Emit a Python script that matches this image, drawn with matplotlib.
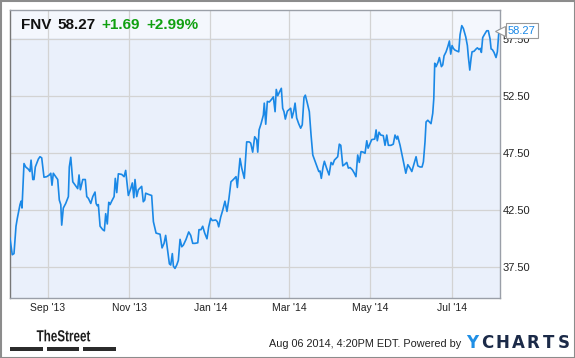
import pandas as pd
import matplotlib
matplotlib.use("Agg")
import matplotlib.pyplot as plt
import matplotlib.dates as mdates
from matplotlib.patches import Rectangle, PathPatch
from matplotlib.textpath import TextPath
from matplotlib.font_manager import FontProperties
from matplotlib.transforms import Affine2D, IdentityTransform

plt.rcParams['font.family'] = ['Liberation Sans', 'DejaVu Sans']

# FNV daily close (days counted from 2013-08-03)
start = pd.Timestamp('2013-08-03')
days = [0.7, 2.4, 3.7, 5.2, 6.2, 8.2, 9.0, 9.7, 11.2, 12.5, 14.5, 15.7, 16.5, 17.8, 18.7,
        19.7, 22.0, 23.2, 24.5, 26.2, 28.3, 30.2, 31.3, 32.2, 33.2, 35.0, 36.5, 37.7, 38.8,
        39.5, 40.7, 42.5, 44.5, 45.2, 46.3, 47.8, 50.2, 51.5, 52.5, 53.5, 55.3, 57.2, 58.3,
        59.5, 61.3, 62.8, 64.5, 65.3, 66.2, 67.0, 68.3, 70.3, 71.5, 72.5, 73.7, 74.8, 75.8,
        77.0, 78.8, 79.7, 80.8, 82.0, 84.5, 86.3, 87.5, 89.5, 91.3, 92.5, 93.6,
        94.5, 95.8, 97.0, 99.5, 100.7, 101.8, 102.5, 104.5, 107.0, 108.3, 110.3, 113.3,
        114.8, 116.3, 117.5, 119.0, 120.3, 121.3, 122.5, 123.3, 124.5, 125.8, 127.0, 128.3,
        129.6, 130.8, 132.8, 134.8, 136.3, 137.8, 139.5, 141.6, 142.5, 144.0, 145.3, 146.8,
        148.5, 149.8, 151.3, 152.5, 155.1, 156.3, 157.3, 158.8, 160.3, 162.0, 163.5, 165.0,
        166.5, 168.3, 170.3, 171.3, 173.3, 174.6, 176.5, 178.3, 180.1, 181.3, 182.8, 184.3,
        185.8, 186.6, 187.6, 189.1, 190.8, 191.5, 192.6, 193.8, 195.3, 197.1, 198.3, 199.6,
        200.5, 201.6, 202.8, 204.3, 205.3, 206.3, 207.3, 208.8, 210.3, 211.3, 212.3, 213.6,
        214.6, 215.8, 217.3, 218.8, 220.0, 221.3, 222.3, 223.8, 225.3, 226.6, 227.9, 229.6,
        231.3, 232.4, 233.3, 234.3, 235.6, 236.6, 238.1, 240.1, 241.6, 242.9, 244.1, 245.3,
        246.6, 247.8, 248.9, 250.4, 251.6, 253.4, 254.6, 255.9, 257.6, 259.1, 260.3, 261.6,
        262.8, 264.1, 265.8, 267.1, 268.4, 269.4, 272.1, 274.4, 275.4, 276.3, 277.6, 278.9,
        280.8, 282.1, 283.4, 284.6, 286.6, 288.3, 289.6, 290.9, 291.6, 293.4, 294.9, 296.4,
        297.7, 299.2, 300.9, 302.2, 303.9, 305.4, 306.7, 308.4, 309.9, 310.9, 312.1, 312.9,
        314.2, 315.4, 316.6, 317.9, 318.7, 319.4, 320.4, 321.9, 322.9, 324.4, 325.4, 326.4,
        327.9, 329.2, 330.4, 331.4, 332.4, 333.4, 334.6, 336.4, 337.4, 338.4, 339.7, 340.9,
        342.7, 343.9, 344.6, 345.7, 346.7, 347.4, 348.9, 350.4, 351.4, 352.7, 353.6, 354.4,
        355.4, 356.6, 358.4, 359.6, 360.9, 361.7, 362.6, 363.9, 365.4, 366.4, 367.6]
close = [40.04, 38.6, 38.7, 41.1, 41.8, 43.0, 43.3, 42.7, 46.6, 46.3, 46.1, 45.9, 46.9, 45.2, 45.2,
         46.3, 47.0, 47.2, 47.1, 45.4, 45.45, 45.6, 45.75, 44.7, 45.75, 45.45, 45.2, 43.4, 43.0,
         41.2, 42.7, 43.1, 43.7, 46.3, 47.15, 45.0, 44.6, 44.4, 45.6, 44.3, 45.2, 45.2, 43.7,
         43.55, 43.1, 43.7, 44.1, 43.1, 42.9, 43.0, 41.1, 40.8, 40.7, 42.2, 41.3, 43.2, 43.0,
         43.3, 43.7, 45.3, 44.05, 45.7, 45.65, 45.45, 46.0, 43.8, 44.4, 44.9, 43.6,
         45.2, 43.7, 44.3, 44.6, 43.25, 43.4, 44.0, 43.9, 43.8, 41.5, 40.5, 40.4,
         39.2, 39.6, 40.3, 38.95, 37.8, 37.7, 38.7, 37.6, 37.4, 37.7, 38.1, 39.95,
         39.3, 39.45, 39.95, 40.6, 40.3, 39.6, 39.6, 39.65, 40.8, 40.8, 41.1, 40.5,
         40.0, 41.05, 41.8, 41.6, 41.65, 41.5, 41.05, 41.9, 42.5, 43.3, 42.4, 43.55,
         45.0, 45.2, 45.45, 44.5, 47.05, 46.2, 45.3, 48.5, 48.5, 48.4, 47.6, 48.95,
         48.7, 47.6, 49.55, 50.1, 50.85, 51.9, 50.05, 52.05, 52.0, 52.25, 52.45, 51.15,
         53.1, 52.55, 52.85, 53.2, 51.45, 51.15, 50.5, 51.2, 51.35, 51.45, 50.6, 51.2,
         51.9, 50.6, 50.1, 49.7, 50.0, 52.4, 52.6, 51.9, 51.15, 49.1, 47.35, 46.8,
         46.25, 45.9, 45.95, 45.3, 46.3, 46.8, 46.25, 45.6, 46.7, 46.5, 46.9, 47.05,
         47.2, 48.3, 48.2, 46.4, 46.5, 46.7, 46.2, 46.25, 46.05, 45.75, 45.45, 47.35,
         46.7, 47.65, 47.6, 47.5, 48.6, 47.95, 48.7, 48.75, 49.55, 48.6, 49.35, 49.1,
         49.05, 48.2, 49.1, 48.2, 48.2, 48.3, 49.1, 48.75, 49.0, 48.2, 47.35, 46.5,
         45.75, 46.5, 46.2, 45.9, 46.6, 47.2, 46.4, 46.3, 46.3, 46.75, 48.5, 50.25,
         50.4, 50.25, 50.1, 51.0, 52.3, 55.4, 55.1, 55.5, 55.9, 55.1, 55.25, 56.05,
         56.4, 56.85, 57.35, 56.2, 56.95, 56.7, 56.55, 56.45, 56.4, 57.9, 58.7, 58.45,
         57.7, 56.95, 56.0, 54.8, 55.85, 56.4, 56.45, 56.65, 56.75, 56.6, 56.7, 56.35,
         57.65, 57.9, 58.25, 58.25, 57.55, 56.65, 56.6, 56.35, 55.9, 56.4, 58.27]

ticker = 'FNV'
last_price = '58.27'
change = '+1.69'
change_pct = '+2.99%'
yticks = [37.5, 42.5, 47.5, 52.5, 57.5]
stamp = 'Aug 06 2014, 4:20PM EDT. Powered by'
brand = 'TheStreet'
logo = 'YCHARTS'

dates = start + pd.to_timedelta(days, unit='D')

line_blue = '#1a88e6'
W, H = 575, 358
fig = plt.figure(figsize=(W / 100, H / 100), dpi=100)
ax = fig.add_axes([10 / W, 60.5 / H, 489.5 / W, 287.5 / H])
ax.set_facecolor('#eaf0fb')

# lighter band behind the quote header
ax.add_patch(Rectangle((0, 0.9026), 1, 0.0974, transform=ax.transAxes,
                       facecolor='#f4f7fd', edgecolor='none', zorder=0))

ax.plot(dates, close, color=line_blue, lw=1.2, zorder=3)

ax.set_xlim(start + pd.Timedelta(days=0.7), start + pd.Timedelta(days=368.0))
ax.set_ylim(34.85, 60.07)
ax.xaxis.set_major_locator(mdates.MonthLocator(bymonth=[1, 3, 5, 7, 9, 11]))
ax.xaxis.set_major_formatter(mdates.DateFormatter("%b '%y"))
ax.set_yticks(yticks)
ax.set_yticklabels([f'{v:.2f}' for v in yticks])
ax.yaxis.tick_right()
ax.tick_params(axis='y', length=0, pad=2.5, labelsize=8, colors='#222222')
ax.tick_params(axis='x', length=0, pad=4, labelsize=7.5, colors='#222222')
ax.grid(True, color='#d3d3d3', lw=0.9)
ax.set_axisbelow(True)
for side in ['top', 'right', 'bottom']:
    ax.spines[side].set_color('#9a9fa8')
ax.spines['left'].set_color('#777777')
for sp in ax.spines.values():
    sp.set_linewidth(1)

# price callout on the right edge
last_y = close[-1]
ax.plot([1.0], [last_y], marker='<', ms=7, mfc='white', mec='#999999', mew=0.8,
        transform=ax.get_yaxis_transform(), clip_on=False, zorder=5)
ax.annotate(last_price, xy=(1.0, last_y), xycoords=ax.get_yaxis_transform(),
            xytext=(6, 0), textcoords='offset points', va='center', ha='left',
            fontsize=8, color=line_blue, zorder=6,
            bbox=dict(boxstyle='square,pad=0.2', fc='white', ec='#999999', lw=0.8))

# header quote
base_y = 1 - 29.3 / H
fig.text(21.5 / W, base_y, ticker, fontsize=11, fontweight='bold', color='#111111')
fig.text(57.5 / W, base_y, last_price, fontsize=11, fontweight='bold', color='#111111')
fig.text(101.5 / W, base_y, change, fontsize=11, fontweight='bold', color='#10a010')
fig.text(146.5 / W, base_y, change_pct, fontsize=11, fontweight='bold', color='#10a010')

# footer: condensed "TheStreet" wordmark
tp = TextPath((0, 0), brand, size=16,
              prop=FontProperties(family='Liberation Sans', weight='bold'))
ext = tp.get_extents()
sx = 53.5 / ext.width
tr = Affine2D().translate(-ext.x0, 0).scale(sx, 1.0).translate(36.7, H - 341.3)
fig.patches.append(PathPatch(tp, transform=tr + IdentityTransform(),
                             facecolor='#1e1e1e', edgecolor='none'))
for x0, x1 in [(10, 42.7), (46.7, 79), (83.3, 116)]:
    fig.patches.append(Rectangle((x0 / W, 1 - 350.8 / H), (x1 - x0) / W, 3.4 / H,
                                 transform=fig.transFigure, facecolor='#2b2b2b',
                                 edgecolor='none'))
fig.text(269 / W, 1 - 344 / H, stamp, fontsize=7.8, color='#222222', va='center')
for i, ch in enumerate(logo):
    fig.text((472.5 + i * 15.2) / W, 1 - 343.2 / H, ch, fontsize=12, fontweight='bold',
             family='DejaVu Sans', color='#1f8fe5' if i == 0 else '#1b2a48',
             ha='center', va='center')

# outer frame
fig.patches.append(Rectangle((0.5 / W, 0.5 / H), 574 / W, 357 / H,
                             transform=fig.transFigure, fill=False,
                             edgecolor='#8c8c8c', lw=1.5))

fig.savefig('out.png', dpi=100)
